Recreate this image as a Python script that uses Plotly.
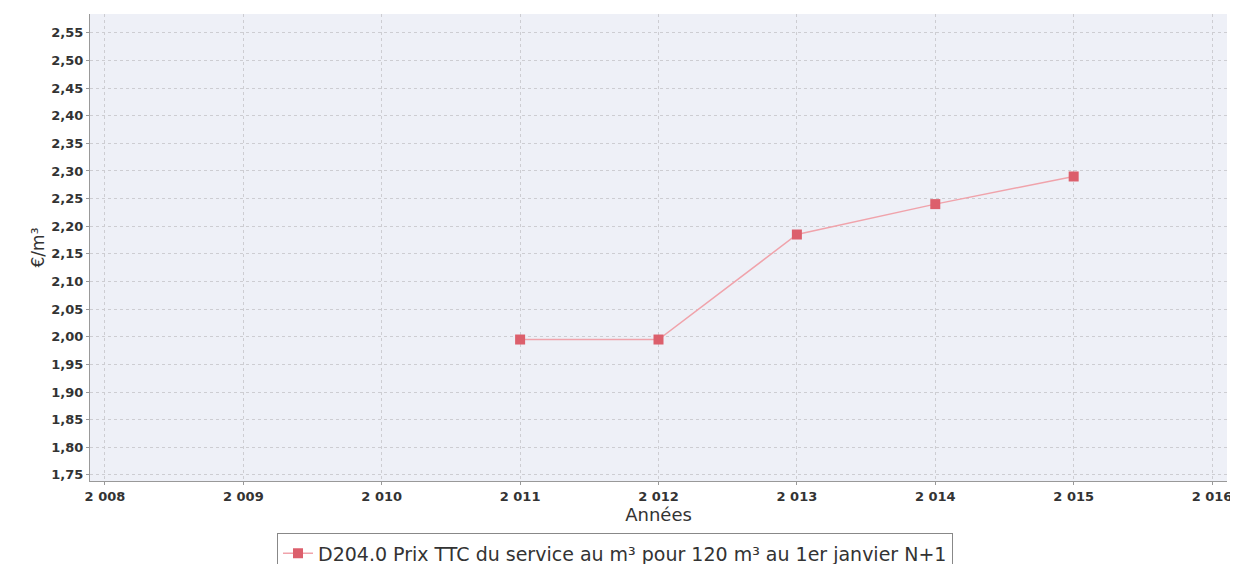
import plotly.graph_objects as go

years = [2011, 2012, 2013, 2014, 2015]
prices = [1.995, 1.995, 2.185, 2.240, 2.290]
series_name = "D204.0 Prix TTC du service au m³ pour 120 m³ au 1er janvier N+1"
x_title = "Années"
y_title = "€/m³"
x_ticks = [2008, 2009, 2010, 2011, 2012, 2013, 2014, 2015, 2016]
y_ticks = [1.75, 1.80, 1.85, 1.90, 1.95, 2.00, 2.05, 2.10, 2.15, 2.20, 2.25, 2.30, 2.35, 2.40, 2.45, 2.50, 2.55]

fig = go.Figure()
fig.add_trace(go.Scatter(
    x=years, y=prices, mode="lines+markers", name=series_name,
    line=dict(color="#f0a3ab", width=1.5),
    marker=dict(symbol="square", size=10, color="#dc5f6c"),
))

fig.update_layout(
    width=1230, height=556,
    separators=", ",
    paper_bgcolor="white",
    plot_bgcolor="#eef0f7",
    margin=dict(l=82, r=11, t=6, b=83),
    font=dict(family="DejaVu Sans", color="#333333"),
    showlegend=True,
    legend=dict(
        orientation="h", xref="container", yref="container",
        x=0.4935, xanchor="center", y=0.055, yanchor="top",
        bordercolor="#888888", borderwidth=1, bgcolor="white",
        font=dict(size=19, family="DejaVu Sans", color="#333333"),
        itemwidth=30,
    ),
)
fig.update_xaxes(
    range=[2007.892, 2016.108], tickvals=x_ticks, tickformat=",d",
    showgrid=True, gridcolor="#cdcdd2", griddash="dot", gridwidth=1,
    showline=True, linecolor="#999999", linewidth=1,
    ticks="outside", ticklen=3, tickcolor="#999999",
    tickfont=dict(size=13, color="#333333", weight="bold"),
    title=dict(text=x_title, font=dict(size=18), standoff=2),
    zeroline=False,
)
fig.update_yaxes(
    range=[1.739, 2.584], tickvals=y_ticks, tickformat=".2f",
    showgrid=True, gridcolor="#cdcdd2", griddash="dot", gridwidth=1,
    showline=True, linecolor="#999999", linewidth=1,
    ticks="outside", ticklen=3, tickcolor="#999999",
    tickfont=dict(size=13, color="#333333", weight="bold"),
    title=dict(text=y_title, font=dict(size=17), standoff=2),
    zeroline=False,
)

fig.write_html("out.html")
